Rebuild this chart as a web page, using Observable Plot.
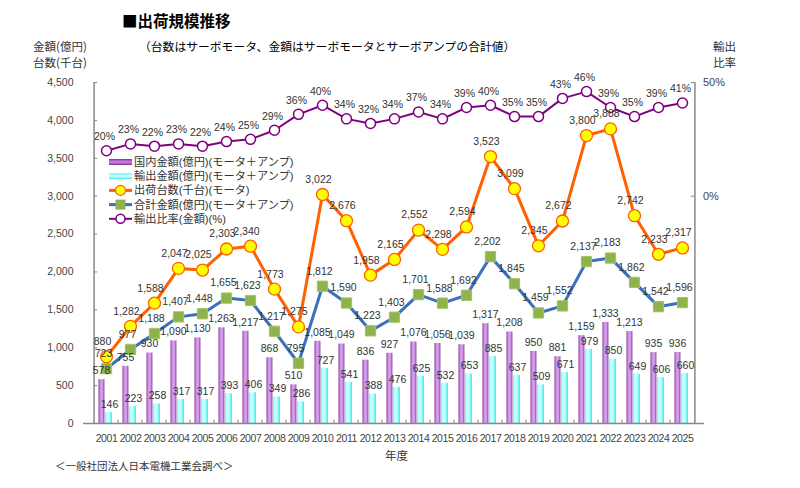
<!DOCTYPE html>
<html lang="ja"><head><meta charset="utf-8">
<script src="https://cdn.jsdelivr.net/npm/d3@7"></script>
<script src="https://cdn.jsdelivr.net/npm/@observablehq/plot@0.6"></script>
<style>
body{margin:0;background:#fff;}
#wrap{position:relative;width:800px;height:488px;overflow:hidden;font-family:"Noto Sans CJK JP","Noto Sans",sans-serif;color:#333;}
.t{position:absolute;white-space:nowrap;line-height:1;}
</style></head><body>
<div id="wrap">
  <div class="t" style="left:122px;top:13px;font-size:15.5px;font-weight:bold;color:#000;">■出荷規模推移</div>
  <div class="t" style="left:139px;top:40px;font-size:11.8px;color:#000;">（台数はサーボモータ、金額はサーボモータとサーボアンプの合計値）</div>
  <div class="t" style="left:33px;top:41px;font-size:11.5px;">金額(億円)</div>
  <div class="t" style="left:33px;top:57px;font-size:11.5px;">台数(千台)</div>
  <div class="t" style="left:713px;top:41px;font-size:11.5px;">輸出</div>
  <div class="t" style="left:713px;top:57px;font-size:11.5px;">比率</div>
  <div class="t" style="left:385px;top:450px;font-size:11.5px;">年度</div>
  <div class="t" style="left:55px;top:461px;font-size:10.5px;">＜一般社団法人日本電機工業会調べ＞</div>
  <div id="chart" style="position:absolute;left:0;top:0;"></div>
  <div id="legend" style="position:absolute;left:105px;top:153px;"></div>
</div>
<script>
const years = ["2001","2002","2003","2004","2005","2006","2007","2008","2009","2010","2011","2012","2013","2014","2015","2016","2017","2018","2019","2020","2021","2022","2023","2024","2025"];
const domestic = [578,755,930,1090,1130,1263,1217,868,510,1085,1049,836,927,1076,1056,1039,1317,1208,950,881,1159,1333,1213,935,936];
const exportAmt = [146,223,258,317,317,393,406,349,286,727,541,388,476,625,532,653,885,637,509,671,979,850,649,606,660];
const shipments = [880,1282,1588,2047,2025,2303,2340,1773,1275,3022,2676,1958,2165,2552,2298,2594,3523,3099,2345,2672,3800,3888,2742,2233,2317];
const totalAmt = [723,977,1188,1407,1448,1655,1623,1217,795,1812,1590,1223,1403,1701,1588,1692,2202,1845,1459,1552,2137,2183,1862,1542,1596];
const exportRatio = [20,23,22,23,22,24,25,29,36,40,34,32,34,37,34,39,40,35,35,43,46,39,35,39,41];
const yTicks = [0,500,1000,1500,2000,2500,3000,3500,4000,4500];
const ratioTicks = [0,50];

const data = years.map((y,i)=>({year:y, domestic:domestic[i], exp:exportAmt[i], ship:shipments[i], total:totalAmt[i], ratio:exportRatio[i]}));
// right axis: 0% ↔ 3000, 50% ↔ 4500
const ratioToY = r => 3000 + r*30;

const W=800,H=488,mL=83,mR=96,mT=82,mB=65;
const bw=(W-mL-mR)/years.length;
const fmt=d3.format(",");
const NUM='"Liberation Sans",Arial,sans-serif';
const lab="#333";
const fs=10.5;

const chart = Plot.plot({
  width:W,height:H,marginLeft:mL,marginRight:mR,marginTop:mT,marginBottom:mB,
  style:{fontFamily:NUM,fontSize:"11px",color:"#444",background:"transparent",overflow:"visible"},
  x:{type:"band",domain:years,padding:0,label:null},
  y:{domain:[0,4500],label:null},
  marks:[
    Plot.barY(data,{x:"year",y:"domestic",fill:"url(#gPur)",insetLeft:4.5,insetRight:bw-11.2}),
    Plot.barY(data,{x:"year",y:"exp",fill:"url(#gCy)",insetLeft:11.2,insetRight:bw-18.7}),
    Plot.ruleX(years.slice(1),{dx:-bw/2,y1:0,y2:45,stroke:"#888"}),
    Plot.ruleY([0],{stroke:"#888",strokeWidth:1.5}),
    Plot.ruleX([years[0]],{dx:-bw/2,y1:0,y2:4500,stroke:"#888",strokeWidth:1.5}),
    Plot.ruleX([years[years.length-1]],{dx:bw/2,y1:0,y2:4500,stroke:"#888",strokeWidth:1.5}),
    Plot.tickY(yTicks,{x:()=>years[0],y:d=>d,insetRight:bw-4,stroke:"#888"}),
    Plot.tickY(ratioTicks,{x:()=>years[years.length-1],y:d=>ratioToY(d),insetLeft:bw-4,stroke:"#888"}),
    Plot.text(ratioTicks,{x:()=>years[years.length-1],y:d=>ratioToY(d),text:d=>d+"%",dx:bw/2+8,textAnchor:"start",fill:"#444",fontSize:11}),
    Plot.axisY({ticks:yTicks,tickFormat:fmt,tickSize:0,tickPadding:10,label:null,fontSize:10.5}),
    Plot.axisX({tickSize:0,tickPadding:11,label:null,fontSize:10.5}),
    // lines
    Plot.line(data,{x:"year",y:"total",stroke:"#3c6fbe",strokeWidth:3}),
    Plot.line(data,{x:"year",y:"ship",stroke:"#ff6000",strokeWidth:3}),
    Plot.line(data,{x:"year",y:d=>ratioToY(d.ratio),stroke:"#800080",strokeWidth:2}),
    Plot.dot(data,{x:"year",y:"total",symbol:"square",r:5.8,fill:"#8fb24b",stroke:"#a4c464",strokeWidth:1}),
    Plot.dot(data,{x:"year",y:"ship",r:6,fill:"#ffff00",stroke:"#ff6000",strokeWidth:1.3}),
    Plot.dot(data,{x:"year",y:d=>ratioToY(d.ratio),r:5,fill:"#fff",stroke:"#800080",strokeWidth:1.5}),
    // labels
    Plot.text(data,{x:"year",y:"domestic",text:d=>fmt(d.domestic),dx:-5,dy:-9,fill:lab,fontSize:fs}),
    Plot.text(data,{x:"year",y:"exp",text:d=>fmt(d.exp),dx:3,dy:-8,fill:lab,fontSize:fs}),
    Plot.text(data,{x:"year",y:"total",text:d=>fmt(d.total),dx:-3,dy:-15,fill:lab,fontSize:fs}),
    Plot.text(data,{x:"year",y:"ship",text:d=>fmt(d.ship),dx:-4,dy:-15,fill:lab,fontSize:fs}),
    Plot.text(data,{x:"year",y:d=>ratioToY(d.ratio),text:d=>d.ratio+"%",dx:-2,dy:-14,fill:lab,fontSize:fs})
  ]
});
// gradients
const ns="http://www.w3.org/2000/svg";
const defs=document.createElementNS(ns,"defs");
defs.innerHTML=`
<linearGradient id="gPur" x1="0" x2="1" y1="0" y2="0">
 <stop offset="0" stop-color="#8a2f8a"/><stop offset="0.25" stop-color="#c98ae8"/>
 <stop offset="0.6" stop-color="#d9a6f5"/><stop offset="0.85" stop-color="#b06cc8"/><stop offset="1" stop-color="#7a237a"/>
</linearGradient>
<linearGradient id="gCy" x1="0" x2="1" y1="0" y2="0">
 <stop offset="0" stop-color="#66f5f5"/><stop offset="0.35" stop-color="#d8ffff"/>
 <stop offset="0.7" stop-color="#9ffcfc"/><stop offset="1" stop-color="#22e6ee"/>
</linearGradient>`;
chart.insertBefore(defs,chart.firstChild);
chart.querySelectorAll('g[aria-label="x-axis tick label"] text').forEach(t=>t.setAttribute("letter-spacing","-0.4"));
document.getElementById("chart").appendChild(chart);

// legend
const items=[
 {t:"国内金額(億円)(モータ＋アンプ)",k:"barP"},
 {t:"輸出金額(億円)(モータ＋アンプ)",k:"barC"},
 {t:"出荷台数(千台)(モータ)",k:"ship"},
 {t:"合計金額(億円)(モータ＋アンプ)",k:"total"},
 {t:"輸出比率(金額)(%)",k:"ratio"}
];
let s=`<svg width="200" height="75" xmlns="${ns}" style="overflow:visible">
<defs>
<linearGradient id="lgP" x1="0" x2="0" y1="0" y2="1"><stop offset="0" stop-color="#8a2f8a"/><stop offset="0.5" stop-color="#c98ae8"/><stop offset="1" stop-color="#8a2f8a"/></linearGradient>
<linearGradient id="lgC" x1="0" x2="0" y1="0" y2="1"><stop offset="0" stop-color="#66f5f5"/><stop offset="0.5" stop-color="#d8ffff"/><stop offset="1" stop-color="#33eaee"/></linearGradient>
</defs>`;
items.forEach((it,i)=>{
  const y=9+i*14.2;
  if(it.k==="barP") s+=`<rect x="4" y="${y-3}" width="23" height="6" fill="url(#lgP)"/>`;
  if(it.k==="barC") s+=`<rect x="4" y="${y-3}" width="23" height="6" fill="url(#lgC)"/>`;
  if(it.k==="ship") s+=`<line x1="4" x2="27" y1="${y}" y2="${y}" stroke="#ff6000" stroke-width="3"/><circle cx="15.5" cy="${y}" r="5" fill="#ffff00" stroke="#ff6000" stroke-width="1.2"/>`;
  if(it.k==="total") s+=`<line x1="4" x2="27" y1="${y}" y2="${y}" stroke="#3c6fbe" stroke-width="3"/><rect x="10.5" y="${y-5}" width="10" height="10" fill="#8fb24b"/>`;
  if(it.k==="ratio") s+=`<line x1="4" x2="27" y1="${y}" y2="${y}" stroke="#800080" stroke-width="2"/><circle cx="15.5" cy="${y}" r="4.5" fill="#fff" stroke="#800080" stroke-width="1.5"/>`;
  s+=`<text x="29" y="${y}" dy="0.36em" font-size="11.2" fill="#333" font-family='"Liberation Sans","Noto Sans CJK JP",sans-serif'>${it.t}</text>`;
});
s+=`</svg>`;
document.getElementById("legend").innerHTML=s;
</script>
</body></html>
